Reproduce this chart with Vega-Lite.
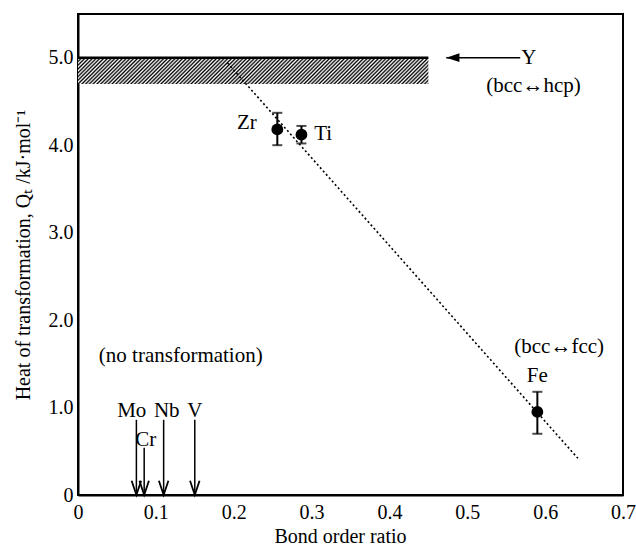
{
  "$schema": "https://vega.github.io/schema/vega-lite/v6.json",
  "width": 545,
  "height": 481,
  "autosize": {"type": "none"},
  "padding": {"left": 78, "top": 14, "right": 13, "bottom": 50},
  "background": "white",
  "config": {
    "view": {"stroke": "black", "strokeWidth": 2},
    "font": "Liberation Serif",
    "axis": {
      "domainColor": "black", "domainWidth": 2,
      "ticks": false,
      "labelColor": "black", "titleColor": "black",
      "labelFont": "Liberation Serif", "titleFont": "Liberation Serif",
      "labelFontSize": 20, "titleFontSize": 20, "titleFontWeight": "normal",
      "grid": false, "labelFlush": false
    }
  },
  "datasets": {
    "band": [{"x": 0, "x2": 0.45, "y": 4.7, "y2": 5.0}],
    "fit": [{"x": 0.192, "y": 4.94}, {"x": 0.642, "y": 0.42}],
    "pts": [
      {"el": "Zr", "x": 0.256, "y": 4.18, "lo": 4.0, "hi": 4.37},
      {"el": "Ti", "x": 0.287, "y": 4.12, "lo": 4.02, "hi": 4.22},
      {"el": "Fe", "x": 0.59, "y": 0.95, "lo": 0.70, "hi": 1.18}
    ],
    "arrows": [
      {"el": "Mo", "x": 0.075, "y": 0, "top": 0.86},
      {"el": "Cr", "x": 0.085, "y": 0, "top": 0.54},
      {"el": "Nb", "x": 0.11, "y": 0, "top": 0.86},
      {"el": "V", "x": 0.15, "y": 0, "top": 0.86}
    ],
    "yarrow": [{"x": 0.473, "x2": 0.568, "y": 5.0}],
    "labels": [
      {"t": "Zr", "x": 0.217, "y": 4.25},
      {"t": "Ti", "x": 0.315, "y": 4.13},
      {"t": "Fe", "x": 0.59, "y": 1.36},
      {"t": "Y", "x": 0.579, "y": 5.0},
      {"t": "(bcc↔hcp)", "x": 0.585, "y": 4.68},
      {"t": "(bcc↔fcc)", "x": 0.618, "y": 1.69},
      {"t": "(no transformation)", "x": 0.132, "y": 1.59},
      {"t": "Mo", "x": 0.069, "y": 0.96},
      {"t": "Nb", "x": 0.114, "y": 0.96},
      {"t": "V", "x": 0.15, "y": 0.96},
      {"t": "Cr", "x": 0.087, "y": 0.63}
    ]
  },
  "encoding": {
    "x": {
      "field": "x", "type": "quantitative",
      "scale": {"domain": [0, 0.7], "nice": false, "zero": false},
      "axis": {
        "title": "Bond order ratio",
        "values": [0, 0.1, 0.2, 0.3, 0.4, 0.5, 0.6, 0.7],
        "labelExpr": "datum.value == 0 ? '0' : format(datum.value, '.1f')",
        "labelPadding": 7, "titlePadding": 4, "titleX": 262
      }
    },
    "y": {
      "field": "y", "type": "quantitative",
      "scale": {"domain": [0, 5.5], "nice": false, "zero": false},
      "axis": {
        "title": "Heat of transformation, Qₜ /kJ·mol⁻¹",
        "values": [0, 1, 2, 3, 4, 5],
        "labelExpr": "datum.value == 0 ? '0' : format(datum.value, '.1f')",
        "labelPadding": 5, "titlePadding": 15
      }
    }
  },
  "layer": [
    {
      "data": {"name": "band"},
      "mark": {
        "type": "rect",
        "strokeWidth": 0,
        "fill": {
          "gradient": "linear", "x1": 0, "y1": 0, "x2": 1.0687, "y2": 0.08,
          "stops": [
{"offset":0,"color":"#000"},{"offset":0.005,"color":"#fff"},{"offset":0.01,"color":"#000"},{"offset":0.015,"color":"#fff"},{"offset":0.02,"color":"#000"},{"offset":0.025,"color":"#fff"},{"offset":0.03,"color":"#000"},{"offset":0.035,"color":"#fff"},{"offset":0.04,"color":"#000"},{"offset":0.045,"color":"#fff"},
{"offset":0.05,"color":"#000"},{"offset":0.055,"color":"#fff"},{"offset":0.06,"color":"#000"},{"offset":0.065,"color":"#fff"},{"offset":0.07,"color":"#000"},{"offset":0.075,"color":"#fff"},{"offset":0.08,"color":"#000"},{"offset":0.085,"color":"#fff"},{"offset":0.09,"color":"#000"},{"offset":0.095,"color":"#fff"},
{"offset":0.1,"color":"#000"},{"offset":0.105,"color":"#fff"},{"offset":0.11,"color":"#000"},{"offset":0.115,"color":"#fff"},{"offset":0.12,"color":"#000"},{"offset":0.125,"color":"#fff"},{"offset":0.13,"color":"#000"},{"offset":0.135,"color":"#fff"},{"offset":0.14,"color":"#000"},{"offset":0.145,"color":"#fff"},
{"offset":0.15,"color":"#000"},{"offset":0.155,"color":"#fff"},{"offset":0.16,"color":"#000"},{"offset":0.165,"color":"#fff"},{"offset":0.17,"color":"#000"},{"offset":0.175,"color":"#fff"},{"offset":0.18,"color":"#000"},{"offset":0.185,"color":"#fff"},{"offset":0.19,"color":"#000"},{"offset":0.195,"color":"#fff"},
{"offset":0.2,"color":"#000"},{"offset":0.205,"color":"#fff"},{"offset":0.21,"color":"#000"},{"offset":0.215,"color":"#fff"},{"offset":0.22,"color":"#000"},{"offset":0.225,"color":"#fff"},{"offset":0.23,"color":"#000"},{"offset":0.235,"color":"#fff"},{"offset":0.24,"color":"#000"},{"offset":0.245,"color":"#fff"},
{"offset":0.25,"color":"#000"},{"offset":0.255,"color":"#fff"},{"offset":0.26,"color":"#000"},{"offset":0.265,"color":"#fff"},{"offset":0.27,"color":"#000"},{"offset":0.275,"color":"#fff"},{"offset":0.28,"color":"#000"},{"offset":0.285,"color":"#fff"},{"offset":0.29,"color":"#000"},{"offset":0.295,"color":"#fff"},
{"offset":0.3,"color":"#000"},{"offset":0.305,"color":"#fff"},{"offset":0.31,"color":"#000"},{"offset":0.315,"color":"#fff"},{"offset":0.32,"color":"#000"},{"offset":0.325,"color":"#fff"},{"offset":0.33,"color":"#000"},{"offset":0.335,"color":"#fff"},{"offset":0.34,"color":"#000"},{"offset":0.345,"color":"#fff"},
{"offset":0.35,"color":"#000"},{"offset":0.355,"color":"#fff"},{"offset":0.36,"color":"#000"},{"offset":0.365,"color":"#fff"},{"offset":0.37,"color":"#000"},{"offset":0.375,"color":"#fff"},{"offset":0.38,"color":"#000"},{"offset":0.385,"color":"#fff"},{"offset":0.39,"color":"#000"},{"offset":0.395,"color":"#fff"},
{"offset":0.4,"color":"#000"},{"offset":0.405,"color":"#fff"},{"offset":0.41,"color":"#000"},{"offset":0.415,"color":"#fff"},{"offset":0.42,"color":"#000"},{"offset":0.425,"color":"#fff"},{"offset":0.43,"color":"#000"},{"offset":0.435,"color":"#fff"},{"offset":0.44,"color":"#000"},{"offset":0.445,"color":"#fff"},
{"offset":0.45,"color":"#000"},{"offset":0.455,"color":"#fff"},{"offset":0.46,"color":"#000"},{"offset":0.465,"color":"#fff"},{"offset":0.47,"color":"#000"},{"offset":0.475,"color":"#fff"},{"offset":0.48,"color":"#000"},{"offset":0.485,"color":"#fff"},{"offset":0.49,"color":"#000"},{"offset":0.495,"color":"#fff"},
{"offset":0.5,"color":"#000"},{"offset":0.505,"color":"#fff"},{"offset":0.51,"color":"#000"},{"offset":0.515,"color":"#fff"},{"offset":0.52,"color":"#000"},{"offset":0.525,"color":"#fff"},{"offset":0.53,"color":"#000"},{"offset":0.535,"color":"#fff"},{"offset":0.54,"color":"#000"},{"offset":0.545,"color":"#fff"},
{"offset":0.55,"color":"#000"},{"offset":0.555,"color":"#fff"},{"offset":0.56,"color":"#000"},{"offset":0.565,"color":"#fff"},{"offset":0.57,"color":"#000"},{"offset":0.575,"color":"#fff"},{"offset":0.58,"color":"#000"},{"offset":0.585,"color":"#fff"},{"offset":0.59,"color":"#000"},{"offset":0.595,"color":"#fff"},
{"offset":0.6,"color":"#000"},{"offset":0.605,"color":"#fff"},{"offset":0.61,"color":"#000"},{"offset":0.615,"color":"#fff"},{"offset":0.62,"color":"#000"},{"offset":0.625,"color":"#fff"},{"offset":0.63,"color":"#000"},{"offset":0.635,"color":"#fff"},{"offset":0.64,"color":"#000"},{"offset":0.645,"color":"#fff"},
{"offset":0.65,"color":"#000"},{"offset":0.655,"color":"#fff"},{"offset":0.66,"color":"#000"},{"offset":0.665,"color":"#fff"},{"offset":0.67,"color":"#000"},{"offset":0.675,"color":"#fff"},{"offset":0.68,"color":"#000"},{"offset":0.685,"color":"#fff"},{"offset":0.69,"color":"#000"},{"offset":0.695,"color":"#fff"},
{"offset":0.7,"color":"#000"},{"offset":0.705,"color":"#fff"},{"offset":0.71,"color":"#000"},{"offset":0.715,"color":"#fff"},{"offset":0.72,"color":"#000"},{"offset":0.725,"color":"#fff"},{"offset":0.73,"color":"#000"},{"offset":0.735,"color":"#fff"},{"offset":0.74,"color":"#000"},{"offset":0.745,"color":"#fff"},
{"offset":0.75,"color":"#000"},{"offset":0.755,"color":"#fff"},{"offset":0.76,"color":"#000"},{"offset":0.765,"color":"#fff"},{"offset":0.77,"color":"#000"},{"offset":0.775,"color":"#fff"},{"offset":0.78,"color":"#000"},{"offset":0.785,"color":"#fff"},{"offset":0.79,"color":"#000"},{"offset":0.795,"color":"#fff"},
{"offset":0.8,"color":"#000"},{"offset":0.805,"color":"#fff"},{"offset":0.81,"color":"#000"},{"offset":0.815,"color":"#fff"},{"offset":0.82,"color":"#000"},{"offset":0.825,"color":"#fff"},{"offset":0.83,"color":"#000"},{"offset":0.835,"color":"#fff"},{"offset":0.84,"color":"#000"},{"offset":0.845,"color":"#fff"},
{"offset":0.85,"color":"#000"},{"offset":0.855,"color":"#fff"},{"offset":0.86,"color":"#000"},{"offset":0.865,"color":"#fff"},{"offset":0.87,"color":"#000"},{"offset":0.875,"color":"#fff"},{"offset":0.88,"color":"#000"},{"offset":0.885,"color":"#fff"},{"offset":0.89,"color":"#000"},{"offset":0.895,"color":"#fff"},
{"offset":0.9,"color":"#000"},{"offset":0.905,"color":"#fff"},{"offset":0.91,"color":"#000"},{"offset":0.915,"color":"#fff"},{"offset":0.92,"color":"#000"},{"offset":0.925,"color":"#fff"},{"offset":0.93,"color":"#000"},{"offset":0.935,"color":"#fff"},{"offset":0.94,"color":"#000"},{"offset":0.945,"color":"#fff"},
{"offset":0.95,"color":"#000"},{"offset":0.955,"color":"#fff"},{"offset":0.96,"color":"#000"},{"offset":0.965,"color":"#fff"},{"offset":0.97,"color":"#000"},{"offset":0.975,"color":"#fff"},{"offset":0.98,"color":"#000"},{"offset":0.985,"color":"#fff"},{"offset":0.99,"color":"#000"},{"offset":0.995,"color":"#fff"},
{"offset":1,"color":"#000"}
          ]
        }
      },
      "encoding": {
        "x2": {"field": "x2"},
        "y2": {"field": "y2"}
      }
    },
    {
      "data": {"name": "band"},
      "mark": {"type": "rule", "color": "black", "strokeWidth": 2.5},
      "encoding": {
        "x2": {"field": "x2"},
        "y": {"field": "y2", "type": "quantitative"}
      }
    },
    {
      "data": {"name": "fit"},
      "mark": {"type": "line", "color": "black", "strokeWidth": 1.6, "strokeDash": [2, 2.5]},
      "encoding": {}
    },
    {
      "data": {"name": "pts"},
      "mark": {"type": "rule", "color": "black", "strokeWidth": 2},
      "encoding": {
        "y": {"field": "lo", "type": "quantitative"},
        "y2": {"field": "hi"}
      }
    },
    {
      "data": {"name": "pts"},
      "mark": {"type": "tick", "color": "black", "orient": "horizontal", "size": 10, "thickness": 2},
      "encoding": {"y": {"field": "lo", "type": "quantitative"}}
    },
    {
      "data": {"name": "pts"},
      "mark": {"type": "tick", "color": "black", "orient": "horizontal", "size": 10, "thickness": 2},
      "encoding": {"y": {"field": "hi", "type": "quantitative"}}
    },
    {
      "data": {"name": "pts"},
      "mark": {"type": "circle", "color": "black", "opacity": 1, "size": 140},
      "encoding": {}
    },
    {
      "data": {"name": "arrows"},
      "mark": {"type": "rule", "color": "black", "strokeWidth": 1.5},
      "encoding": {"y2": {"field": "top"}}
    },
    {
      "data": {"name": "arrows"},
      "mark": {"type": "point", "shape": "M-1,-3L0,0L1,-3", "filled": false, "stroke": "black", "strokeWidth": 1.8, "size": 90, "opacity": 1},
      "encoding": {}
    },
    {
      "data": {"name": "yarrow"},
      "mark": {"type": "rule", "color": "black", "strokeWidth": 1.5},
      "encoding": {"x2": {"field": "x2"}}
    },
    {
      "data": {"name": "yarrow"},
      "mark": {"type": "point", "shape": "M0,0L3,-1L3,1Z", "filled": true, "color": "black", "size": 77, "opacity": 1},
      "encoding": {}
    },
    {
      "data": {"name": "labels"},
      "mark": {"type": "text", "font": "Liberation Serif", "fontSize": 21, "color": "black", "align": "center", "baseline": "middle"},
      "encoding": {"text": {"field": "t"}}
    }
  ]
}
